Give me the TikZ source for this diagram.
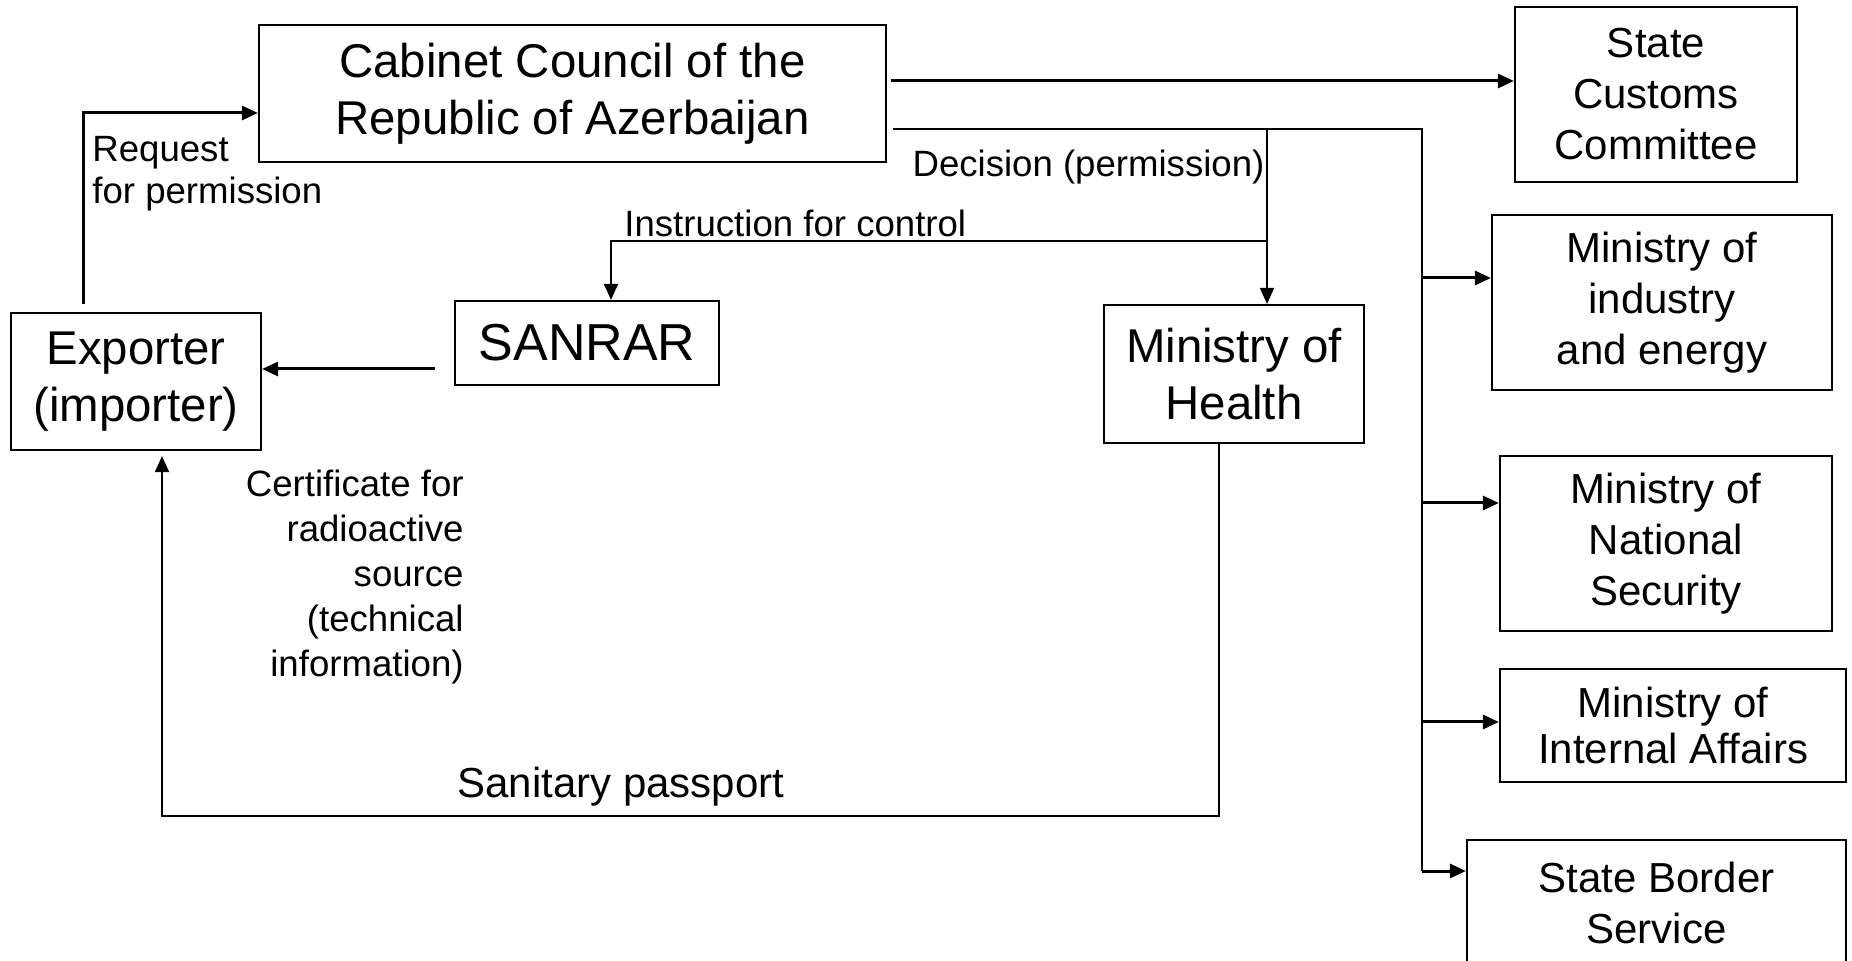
\documentclass[tikz,border=0pt]{standalone}
\usepackage{fontspec}
\setmainfont{Liberation Sans}
\usetikzlibrary{positioning, arrows.meta}

\begin{document}
\begin{tikzpicture}[x=0.5pt, y=-0.5pt,
        box/.style={draw, line width=1.1pt, align=center, inner sep=0pt},
        big/.style={font=\fontsize{23.7}{28.5}\selectfont},
        side/.style={font=\fontsize{21}{25.5}\selectfont},
        note/.style={font=\fontsize{18.3}{21}\selectfont, inner sep=0pt},
        link/.style={line width=0.9pt},
        arr/.style={line width=0.9pt, -{Triangle[length=8pt, width=7pt]}},
        thickarr/.style={line width=1.5pt, -{Triangle[length=8pt, width=7pt]}}]
        \useasboundingbox (0,0) rectangle (1852,961);
        \clip (0,0) rectangle (1852,961);

        \node[box, big, minimum width=313.5pt, minimum height=68.5pt]  (cabinet)  at (572.5,93.5) {Cabinet Council of the\\Republic of Azerbaijan};
        \node[box, big, minimum width=125pt, minimum height=68.5pt]    (exporter) at (136,381.5)  {Exporter\\(importer)};
        \node[box, font=\fontsize{26}{30}\selectfont, minimum width=132pt, minimum height=42pt] (sanrar) at (587,343) {SANRAR};
        \node[box, big, minimum width=130pt, minimum height=69pt]      (health)   at (1234,374)   {Ministry of\\Health};
        \node[box, side, minimum width=141pt, minimum height=87.5pt]   (customs)  at (1656,94.5)  {State\\Customs\\Committee};
        \node[box, side, minimum width=170pt, minimum height=87.5pt]   (industry) at (1662,302.5) {Ministry of\\industry\\and energy};
        \node[box, side, minimum width=166pt, minimum height=87.5pt]   (security) at (1666,543.5) {Ministry of\\National\\Security};
        \node[box, side, font=\fontsize{21}{23}\selectfont, minimum width=173pt, minimum height=56.5pt] (internal) at (1673,725.5) {Ministry of\\Internal Affairs};
        \node[box, side, minimum width=189.5pt, minimum height=63pt]   (border)   at (1656.5,903) {State Border\\Service};

        \node[note, align=left, anchor=west]   (request)     at (92,174)    {Request\\for permission};
        \node[note, anchor=base]               (decision)    at (1088.5,177) {Decision (permission)};
        \node[note, anchor=base west]          (instruction) at (624,237)   {Instruction for control};
        \node[note, font=\fontsize{18.3}{22.5}\selectfont, align=right, anchor=east] (certificate) at (464,577) {Certificate for\\radioactive\\source\\(technical\\information)};
        \node[side, inner sep=0pt, anchor=base] (passport)   at (621,798)   {Sanitary passport};

        \coordinate (bustop)  at (1422,129);
        \coordinate (busbot)  at (1422,871);
        \coordinate (decx)    at (1267,129);
        \coordinate (instr)   at (611,241);
        \coordinate (sanout)  at (435,369);
        \coordinate (reqturn) at (83,113);
        \coordinate (sanit)   at (1219,816);
        \coordinate (sanleft) at (162,816);

        \draw[thickarr, shorten <=4pt] (reqturn |- exporter.north) |- (reqturn -| cabinet.west);
        \draw[thickarr, shorten <=2pt] (cabinet.east |- 0,81) -- (customs.west |- 0,81);
        \draw[link, shorten <=3pt] (cabinet.east |- bustop) -- (bustop) -- (busbot);
        \draw[arr] (decx) -- (decx |- health.north);
        \draw[arr] (decx |- instr) -- (instr) -- (instr |- sanrar.north);
        \draw[thickarr] (sanout) -- (sanout -| exporter.east);
        \draw[arr, shorten >=2.5pt] (sanit |- health.south) -- (sanit) -- (sanleft) -- (sanleft |- exporter.south);
        \foreach \n/\y in {industry/278, security/503, internal/722, border/871}
            \draw[thickarr] (busbot |- 0,\y) -- (\n.west |- 0,\y);

\end{tikzpicture}
\end{document}
